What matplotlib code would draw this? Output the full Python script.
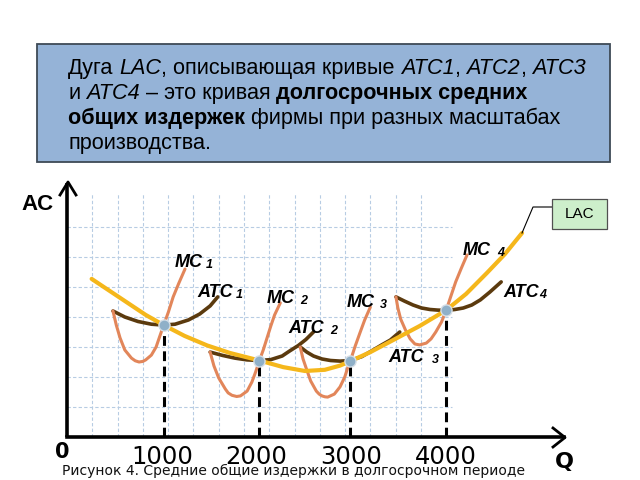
import matplotlib
matplotlib.use("Agg")
import matplotlib.pyplot as plt
from matplotlib.transforms import Affine2D
from matplotlib.patches import Rectangle

# ---------------- data ----------------
lac_q  = [260, 450, 640, 830, 1020, 1240, 1480, 1720, 2030, 2280, 2510, 2720, 2880,
          2990, 3200, 3440, 3720, 4000, 4210, 4430, 4620, 4800]
lac_ac = [5.27, 4.87, 4.47, 4.07, 3.73, 3.37, 3.05, 2.80, 2.55, 2.33, 2.20, 2.24, 2.38,
          2.53, 2.83, 3.23, 3.70, 4.23, 4.77, 5.47, 6.10, 6.80]

atc1_q  = [485, 610, 750, 890, 1020, 1140, 1280, 1400, 1510, 1590]
atc1_ac = [4.20, 4.00, 3.85, 3.76, 3.73, 3.76, 3.90, 4.10, 4.37, 4.67]
mc1_q   = [485, 520, 560, 610, 680, 720, 760, 800, 830, 890, 940, 980, 1020, 1070, 1120, 1180, 1245]
mc1_ac  = [4.20, 3.73, 3.30, 2.90, 2.63, 2.54, 2.50, 2.52, 2.57, 2.73, 3.00, 3.37, 3.73, 4.17, 4.67, 5.13, 5.60]

atc2_q  = [1510, 1640, 1770, 1900, 2030, 2150, 2270, 2350, 2440, 2520, 2600]
atc2_ac = [2.83, 2.72, 2.63, 2.57, 2.55, 2.58, 2.70, 2.87, 3.05, 3.25, 3.50]
mc2_q   = [1510, 1550, 1600, 1670, 1700, 1740, 1790, 1830, 1900, 1950, 1990, 2030, 2070, 2110, 2150, 2190, 2250]
mc2_ac  = [2.83, 2.37, 1.97, 1.60, 1.47, 1.39, 1.35, 1.37, 1.53, 1.83, 2.17, 2.55, 2.90, 3.30, 3.70, 4.07, 4.47]

atc3_q  = [2460, 2530, 2600, 2690, 2780, 2880, 2990, 3110, 3230, 3320, 3410, 3510]
atc3_ac = [3.00, 2.83, 2.70, 2.60, 2.55, 2.53, 2.55, 2.68, 2.90, 3.07, 3.23, 3.50]
mc3_q   = [2460, 2490, 2530, 2570, 2630, 2660, 2690, 2720, 2750, 2820, 2880, 2930, 2960, 2990, 3040, 3090, 3140, 3200]
mc3_ac  = [3.00, 2.60, 2.23, 1.87, 1.53, 1.43, 1.37, 1.34, 1.33, 1.43, 1.67, 2.00, 2.30, 2.55, 3.03, 3.47, 3.90, 4.33]

atc4_q  = [3470, 3560, 3650, 3740, 3830, 3910, 4000, 4090, 4180, 4270, 4360, 4460, 4580]
atc4_ac = [4.67, 4.53, 4.40, 4.30, 4.25, 4.23, 4.22, 4.25, 4.30, 4.40, 4.57, 4.83, 5.17]
mc4_q   = [3470, 3490, 3520, 3570, 3620, 3670, 3720, 3790, 3840, 3890, 3950, 4000, 4050, 4100, 4160, 4220]
mc4_ac  = [4.67, 4.30, 3.93, 3.57, 3.27, 3.10, 3.07, 3.13, 3.27, 3.50, 3.83, 4.23, 4.70, 5.17, 5.63, 6.07]

point_q  = [1020, 2030, 2990, 4000]
point_ac = [3.73, 2.55, 2.55, 4.23]

tick_values = [1000, 2000, 3000, 4000]
tick_labels = ["1000", "2000", "3000", "4000"]

# ---------------- figure ----------------
W, H = 640, 480
fig = plt.figure(figsize=(6.4, 4.8), dpi=100)
fig.patch.set_facecolor("white")
ax = fig.add_axes([0, 0, 1, 1])
X0, SX = 67.0, 0.0948     # pixel of Q=0, pixels per unit Q
Y0, SY = 437.0, 30.0      # pixel of AC=0, pixels per unit AC
ax.set_xlim(-X0 / SX, (W - X0) / SX)
ax.set_ylim((Y0 - H) / SY, Y0 / SY)
ax.axis("off")

PX = Affine2D().scale(1.0 / W, -1.0 / H).translate(0, 1) + fig.transFigure

def q_of(px):
    return (px - X0) / SX

def ac_of(py):
    return (Y0 - py) / SY

# grid
grid_col = "#B7CCE3"
for k in range(1, 15):
    qv = k * 4000 / 15
    ax.plot([qv, qv], [0, ac_of(193)], color=grid_col, lw=0.8,
            ls=(0, (3, 2)), zorder=1)
for a in range(1, 8):
    ax.plot([0, q_of(452)], [a, a], color=grid_col, lw=0.8,
            ls=(0, (3, 2)), zorder=1)

# dashed drop lines
for qv, av in zip(point_q, point_ac):
    ax.plot([qv, qv], [0, av], color="black", lw=2.2, ls=(0, (3.2, 1.8)), zorder=3)

# curves
ATC_C = "#5B3A0E"
MC_C = "#E2865A"
LAC_C = "#F5B71B"
for q, a in [(atc1_q, atc1_ac), (atc2_q, atc2_ac), (atc3_q, atc3_ac), (atc4_q, atc4_ac)]:
    ax.plot(q, a, color=ATC_C, lw=2.6, solid_joinstyle="round", solid_capstyle="round", zorder=4)
for q, a in [(mc1_q, mc1_ac), (mc2_q, mc2_ac), (mc3_q, mc3_ac), (mc4_q, mc4_ac)]:
    ax.plot(q, a, color=MC_C, lw=2.2, solid_joinstyle="round", solid_capstyle="round", zorder=5)
ax.plot(lac_q, lac_ac, color=LAC_C, lw=3.0, solid_joinstyle="round", solid_capstyle="round", zorder=6)

ax.plot(point_q, point_ac, "o", ms=8, mfc="#8FB0C8", mec="#D5DEE6", mew=1.0, zorder=8)

# axes lines
ax.plot([0, 0], [0, ac_of(183)], color="black", lw=2.6, solid_capstyle="butt", zorder=7)
ax.plot([0, q_of(564)], [0, 0], color="black", lw=2.6, solid_capstyle="projecting", zorder=7)
ax.plot([60, 68, 76], [195, 182, 195], color="black", lw=2.0, transform=PX, zorder=7)
ax.plot([553, 565, 553], [428, 437.5, 447], color="black", lw=2.0, transform=PX, zorder=7)

# tick labels
for v, lab in zip(tick_values, tick_labels):
    ax.text(v, ac_of(457), lab, ha="center", va="center", fontsize=17.5,
            family="DejaVu Sans", color="black", zorder=9)
fig.text(62, 452, "0", transform=PX, ha="center", va="center", fontsize=15,
         family="DejaVu Sans", weight="bold", zorder=10)
fig.text(564, 462, "Q", transform=PX, ha="center", va="center", fontsize=16,
         family="DejaVu Sans", weight="bold", zorder=10)
fig.text(37, 205, "AC", transform=PX, ha="center", va="center", fontsize=16,
         family="Liberation Sans", weight="bold", zorder=10)

# caption
fig.text(294, 471, "Рисунок 4. Средние общие издержки в долгосрочном периоде",
         transform=PX, ha="center", va="center", fontsize=10, family="DejaVu Sans",
         color="#111111", zorder=10)

# curve labels
labels = [("MC", "1", 175, 267, 206, 268),
          ("ATC", "1", 197, 297, 236, 298),
          ("MC", "2", 267, 303, 300, 304),
          ("ATC", "2", 288, 333, 330, 334),
          ("MC", "3", 347, 307, 380, 308),
          ("ATC", "3", 388, 362, 432, 363),
          ("MC", "4", 463, 255, 497, 256),
          ("ATC", "4", 503, 297, 539, 298)]
for main, num, x1, y1, x2, y2 in labels:
    fig.text(x1, y1, main, transform=PX, ha="left", va="baseline", fontsize=13,
             family="Liberation Sans", weight="bold", style="italic", zorder=10)
    fig.text(x2, y2, num, transform=PX, ha="left", va="baseline", fontsize=9,
             family="Liberation Sans", weight="bold", style="italic", zorder=10)

# LAC label box with leader line
ax.plot([522, 533, 552], [233, 207, 207], color="black", lw=0.8, transform=PX, zorder=9)
fig.patches.append(Rectangle((552, 199), 55, 30, transform=PX, facecolor="#CDEFCB",
                             edgecolor="#505050", lw=0.9, zorder=9))
fig.text(579.5, 214, "LAC", transform=PX, ha="center", va="center", fontsize=11,
         family="Liberation Sans", zorder=11)

# description box
fig.patches.append(Rectangle((37, 44), 573, 118, transform=PX, facecolor="#95B3D7",
                             edgecolor="#3E4A56", lw=1.3, zorder=1))

renderer = fig.canvas.get_renderer()

def measure(s, kw):
    t = fig.text(0, 0, s, **kw)
    w = t.get_window_extent(renderer).width
    t.remove()
    return w

def draw_runs(runs, x, y, size):
    for s, st in runs:
        kw = dict(family="Liberation Sans", size=size, color="black")
        if st == "i":
            kw["style"] = "italic"
        elif st == "b":
            kw["weight"] = "bold"
        sw = measure("n n", kw) - measure("nn", kw)
        lead = len(s) - len(s.lstrip(" "))
        trail = len(s) - len(s.rstrip(" "))
        core = s.strip(" ")
        x += lead * sw
        t = fig.text(x, y, core, transform=PX, ha="left", va="baseline", zorder=5, **kw)
        bb = t.get_window_extent(renderer)
        x = bb.x1 + trail * sw

lines = [
    [("Дуга ", "n"), ("LAC", "i"), (", описывающая кривые ", "n"), ("ATC1", "i"),
     (", ", "n"), ("ATC2", "i"), (", ", "n"), ("ATC3", "i")],
    [("и ", "n"), ("ATC4", "i"), (" – это кривая ", "n"), ("долгосрочных средних", "b")],
    [("общих издержек", "b"), (" фирмы при разных масштабах", "n")],
    [("производства.", "n")],
]
for i, runs in enumerate(lines):
    draw_runs(runs, 68, 74 + 25 * i, 15.6)

fig.savefig("out.png", dpi=100, facecolor="white")
